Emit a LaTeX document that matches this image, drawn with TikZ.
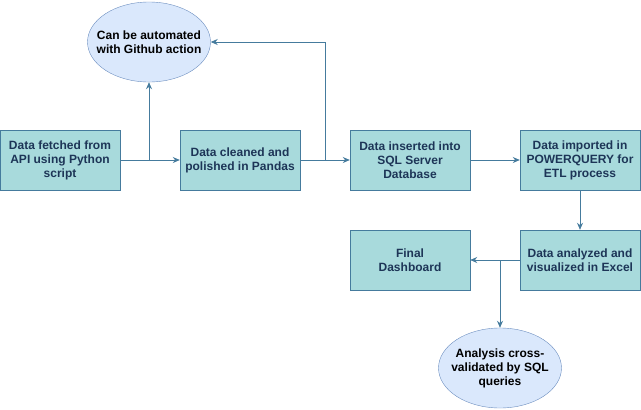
\documentclass[tikz,border=0pt]{standalone}
\usepackage{fontspec}
\setmainfont{Liberation Sans}
\usetikzlibrary{arrows.meta,shapes.geometric}

\definecolor{boxfill}{HTML}{A8DADC}
\definecolor{boxline}{HTML}{457B9D}
\definecolor{boxtext}{HTML}{1D3557}
\definecolor{ellfill}{HTML}{DAE8FC}
\definecolor{ellline}{HTML}{6C8EBF}

\begin{document}
\begin{tikzpicture}[x=1pt,y=-1pt,
		stagebox/.style={rectangle,draw=boxline,fill=boxfill,text=boxtext,
			minimum width=120pt,minimum height=60pt,inner sep=0pt,align=center,
			font=\fontsize{12}{14}\selectfont\bfseries},
		note/.style={ellipse,draw=ellline,fill=ellfill,text=black,
			minimum width=123pt,minimum height=80pt,inner xsep=-16pt,inner ysep=0pt,align=center,
			font=\fontsize{12}{14}\selectfont\bfseries},
		flow/.style={draw=boxline,line width=0.8pt,-{Stealth[length=7pt,width=6pt]}}]
		\useasboundingbox (0,0) rectangle (641,410);
		
		% pipeline boxes
		\node[stagebox] (fetch) at (60,160) {Data fetched from\\API using Python\\script};
		\node[stagebox] (clean) at (240,160) {Data cleaned and\\polished in Pandas};
		\node[stagebox] (sql) at (410,160) {Data inserted into\\SQL Server\\Database};
		\node[stagebox] (pq) at (580,160) {Data imported in\\POWERQUERY for\\ETL process};
		\node[stagebox] (excel) at (580,260) {Data analyzed and\\visualized in Excel};
		\node[stagebox] (dash) at (410,260) {Final\\Dashboard};
		
		% side notes
		\node[note] (auto) at (149,42) {Can be automated\\with Github action};
		\node[note] (check) at (500,368) {Analysis cross-\\validated by SQL\\queries};
		
		\coordinate (j1) at (325,160);
		\coordinate (j2) at (500,260);
		
		\draw[flow] (fetch) -- (clean);
		\draw[flow] (clean) -- (sql);
		\draw[flow] (sql) -- (pq);
		\draw[flow] (pq) -- (excel);
		\draw[flow] (excel) -- (dash);
		
		% branches to the notes
		\draw[flow] (auto.south |- fetch.east) -- (auto.south);
		\draw[flow] (j1) |- (auto.east);
		\draw[flow] (j2) -- (check.north);
	\end{tikzpicture}
\end{document}
